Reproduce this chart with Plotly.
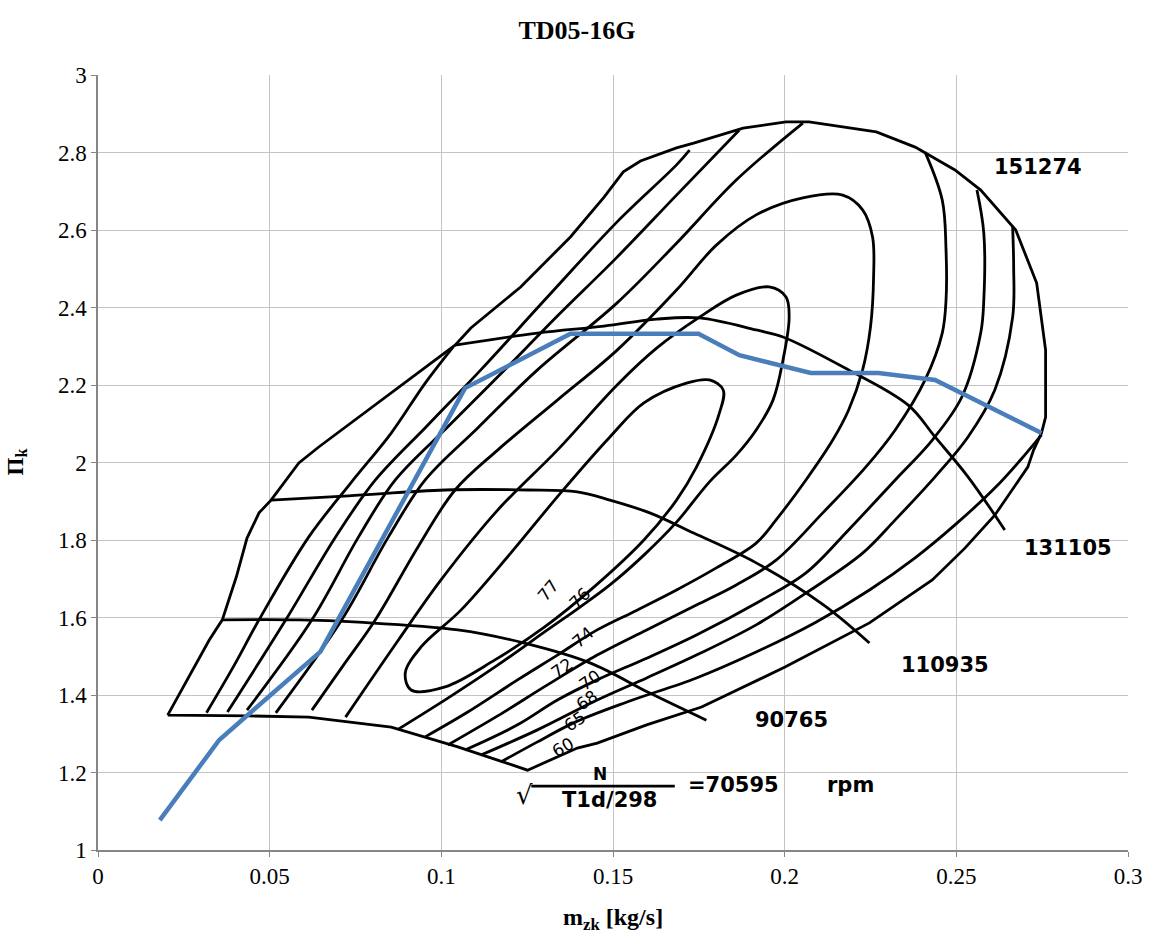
import plotly.graph_objects as go

# ---------------- operating line (blue) ----------------
blue_x = [0.0180, 0.0353, 0.0648, 0.1069, 0.1376, 0.1749, 0.1868, 0.2076, 0.2273, 0.2438, 0.2748]
blue_y = [1.077, 1.284, 1.512, 2.192, 2.332, 2.332, 2.277, 2.231, 2.231, 2.213, 2.076]

# ---------------- compressor map (read from the scanned map) ----------------
# outline: surge line, 151274 rpm top/choke, outer 60% contour, 70595 rpm line
boundary = [(0.0203, 1.348), (0.0243, 1.413), (0.0287, 1.483), (0.0324, 1.542), (0.0362, 1.594),
            (0.0403, 1.705), (0.0434, 1.805), (0.0469, 1.870), (0.0504, 1.903), (0.0585, 1.999),
            (0.0643, 2.040), (0.0759, 2.117), (0.0904, 2.213), (0.1040, 2.303), (0.1086, 2.347),
            (0.1231, 2.453), (0.1376, 2.582), (0.1474, 2.685), (0.1530, 2.750), (0.1580, 2.778),
            (0.1685, 2.812), (0.1735, 2.824), (0.1879, 2.863), (0.2004, 2.879), (0.2071, 2.879),
            (0.2186, 2.863), (0.2267, 2.853), (0.2380, 2.814), (0.2496, 2.755), (0.2571, 2.703),
            (0.2673, 2.600), (0.2734, 2.463), (0.2760, 2.290), (0.2760, 2.117), (0.2748, 2.076),
            (0.2725, 2.032), (0.2708, 1.988), (0.2612, 1.864), (0.2525, 1.779), (0.2430, 1.697),
            (0.2247, 1.586), (0.2001, 1.472), (0.1758, 1.369), (0.1598, 1.323), (0.1454, 1.276),
            (0.1396, 1.263), (0.1251, 1.206), (0.1164, 1.232), (0.1048, 1.266), (0.0854, 1.317),
            (0.0614, 1.343), (0.0440, 1.346), (0.0203, 1.348)]

speed_90765 = [(0.0362, 1.594), (0.0585, 1.594), (0.0759, 1.588), (0.1048, 1.568), (0.1242, 1.534),
               (0.1433, 1.483), (0.1607, 1.405), (0.1772, 1.335)]
speed_110935 = [(0.0504, 1.903), (0.0730, 1.914), (0.1011, 1.929), (0.1251, 1.929), (0.1396, 1.924),
                (0.1491, 1.903), (0.1607, 1.870), (0.1735, 1.818), (0.1917, 1.741), (0.2114, 1.632),
                (0.2247, 1.534)]
speed_131105 = [(0.1040, 2.303), (0.1280, 2.334), (0.1474, 2.352), (0.1627, 2.370), (0.1752, 2.373),
                (0.1917, 2.342), (0.1995, 2.324), (0.2186, 2.239), (0.2360, 2.148), (0.2438, 2.066),
                (0.2534, 1.963), (0.2641, 1.826)]

# efficiency contours
eff_77 = [(0.0895, 1.457), (0.0912, 1.413), (0.1011, 1.421), (0.1155, 1.490), (0.1300, 1.575),
          (0.1445, 1.679), (0.1590, 1.800), (0.1685, 1.903), (0.1743, 1.988), (0.1810, 2.128),
          (0.1821, 2.187), (0.1781, 2.213), (0.1714, 2.205), (0.1590, 2.154), (0.1491, 2.066),
          (0.1347, 1.921), (0.1202, 1.766), (0.1057, 1.619), (0.0941, 1.524), (0.0895, 1.457)]
eff_76 = [(0.0721, 1.343), (0.0875, 1.542), (0.0999, 1.697), (0.1164, 1.877), (0.1338, 2.032),
          (0.1512, 2.200), (0.1627, 2.295), (0.1752, 2.375), (0.1859, 2.432), (0.1955, 2.453),
          (0.2004, 2.427), (0.2013, 2.375), (0.1995, 2.264), (0.1966, 2.161), (0.1917, 2.084),
          (0.1859, 2.019), (0.1781, 1.950), (0.1685, 1.846), (0.1590, 1.761), (0.1491, 1.684),
          (0.1404, 1.627), (0.1309, 1.568), (0.1164, 1.477), (0.1019, 1.392), (0.0875, 1.312)]
eff_74 = [(0.0623, 1.361), (0.0715, 1.477), (0.0808, 1.594), (0.0932, 1.782), (0.1040, 1.929),
          (0.1164, 2.032), (0.1338, 2.161), (0.1512, 2.290), (0.1685, 2.445), (0.1801, 2.561),
          (0.1917, 2.639), (0.2053, 2.683), (0.2169, 2.690), (0.2227, 2.652), (0.2256, 2.582),
          (0.2259, 2.479), (0.2250, 2.350), (0.2227, 2.239), (0.2186, 2.135), (0.2140, 2.058),
          (0.2062, 1.955), (0.1975, 1.852), (0.1917, 1.792), (0.1801, 1.728), (0.1685, 1.671),
          (0.1570, 1.619), (0.1454, 1.568), (0.1338, 1.503), (0.1222, 1.439), (0.1077, 1.356),
          (0.0953, 1.292)]
eff_72_left = [(0.0518, 1.354), (0.0710, 1.594), (0.0846, 1.808), (0.0953, 1.955), (0.1106, 2.089),
               (0.1280, 2.239), (0.1512, 2.412), (0.1685, 2.566), (0.1859, 2.729), (0.2053, 2.876)]
eff_72_right = [(0.2409, 2.801), (0.2459, 2.677), (0.2470, 2.548), (0.2470, 2.419), (0.2459, 2.334),
                (0.2409, 2.213), (0.2322, 2.084), (0.2236, 1.988), (0.2111, 1.870), (0.1975, 1.748),
                (0.1859, 1.684), (0.1743, 1.632), (0.1598, 1.568), (0.1454, 1.503), (0.1309, 1.426),
                (0.1164, 1.346), (0.1019, 1.271)]
eff_70_left = [(0.0434, 1.361), (0.0623, 1.594), (0.0759, 1.808), (0.0866, 1.955), (0.1019, 2.092),
               (0.1179, 2.234), (0.1338, 2.378), (0.1512, 2.530), (0.1685, 2.690), (0.1868, 2.858)]
eff_70_right = [(0.2560, 2.703), (0.2580, 2.592), (0.2580, 2.419), (0.2571, 2.334), (0.2516, 2.169),
                (0.2430, 2.058), (0.2322, 1.955), (0.2186, 1.826), (0.2062, 1.715), (0.1917, 1.637),
                (0.1743, 1.555), (0.1598, 1.495), (0.1454, 1.439), (0.1338, 1.387), (0.1222, 1.323),
                (0.1069, 1.258)]
eff_68_left = [(0.0377, 1.356), (0.0547, 1.594), (0.0692, 1.808), (0.0808, 1.955), (0.0961, 2.097),
               (0.1115, 2.239), (0.1309, 2.427), (0.1512, 2.621), (0.1685, 2.768), (0.1723, 2.806)]
eff_68_right = [(0.2664, 2.608), (0.2667, 2.504), (0.2664, 2.375), (0.2612, 2.187), (0.2534, 2.066),
                (0.2438, 1.963), (0.2322, 1.852), (0.2227, 1.766), (0.2062, 1.663), (0.1917, 1.581),
                (0.1743, 1.503), (0.1598, 1.444), (0.1454, 1.387), (0.1280, 1.310), (0.1115, 1.245)]
eff_65_left = [(0.1034, 2.298), (0.0953, 2.205), (0.0854, 2.076), (0.0736, 1.947), (0.0614, 1.808),
               (0.0469, 1.594), (0.0397, 1.477), (0.0316, 1.354)]
eff_65_right = [(0.2748, 2.071), (0.2699, 2.019), (0.2612, 1.934), (0.2496, 1.839), (0.2380, 1.754),
                (0.2247, 1.671), (0.2091, 1.588), (0.1917, 1.511), (0.1743, 1.444), (0.1541, 1.382),
                (0.1390, 1.330), (0.1280, 1.279), (0.1173, 1.227)]

eff_labels = ["77", "76", "74", "72", "70", "68", "65", "60"]
eff_label_x = [0.1312, 0.1404, 0.1413, 0.1352, 0.1433, 0.1425, 0.1390, 0.1355]
eff_label_y = [1.671, 1.650, 1.550, 1.470, 1.439, 1.387, 1.333, 1.266]
eff_label_angle = [-50, -45, -40, -35, -35, -35, -35, -30]

speed_labels = ["151274", "131105", "110935", "90765"]
speed_label_x = [0.2737, 0.2826, 0.2467, 0.2021]
speed_label_y = [2.763, 1.779, 1.477, 1.335]

x_ticks = [0, 0.05, 0.1, 0.15, 0.2, 0.25, 0.3]
y_ticks = [1, 1.2, 1.4, 1.6, 1.8, 2, 2.2, 2.4, 2.6, 2.8, 3]

fig = go.Figure()

def add_black(points, shape="linear", width=2.8):
    xs = [p[0] for p in points]
    ys = [p[1] for p in points]
    fig.add_trace(go.Scatter(x=xs, y=ys, mode="lines",
                             line=dict(color="black", width=width, shape=shape),
                             hoverinfo="skip", showlegend=False))

add_black(boundary)
for s in (speed_90765, speed_110935, speed_131105):
    add_black(s, shape="spline")
for c in (eff_77, eff_76, eff_74, eff_72_left, eff_72_right, eff_70_left, eff_70_right,
          eff_68_left, eff_68_right, eff_65_left, eff_65_right):
    add_black(c, shape="spline")

fig.add_trace(go.Scatter(x=blue_x, y=blue_y, mode="lines",
                         line=dict(color="#4a7ebb", width=4.5),
                         hoverinfo="skip", showlegend=False))

map_font = dict(family="DejaVu Sans", size=21, color="black", weight="bold")
for t, x, y in zip(speed_labels, speed_label_x, speed_label_y):
    fig.add_annotation(x=x, y=y, text=t, showarrow=False, font=map_font)
for t, x, y, a in zip(eff_labels, eff_label_x, eff_label_y, eff_label_angle):
    fig.add_annotation(x=x, y=y, text=t, showarrow=False, textangle=a,
                       font=dict(family="DejaVu Sans", size=17, color="black"))

# rpm formula under the map
fig.add_annotation(x=0.1462, y=1.196, text="N", showarrow=False,
                   font=dict(family="DejaVu Sans", size=17, color="black", weight="bold"))
fig.add_shape(type="line", x0=0.1262, x1=0.1680, y0=1.165, y1=1.165,
              line=dict(color="black", width=2.8))
fig.add_annotation(x=0.1243, y=1.142, text="√", showarrow=False,
                   font=dict(family="DejaVu Sans", size=26, color="black"))
fig.add_annotation(x=0.1491, y=1.129, text="T1d/298", showarrow=False, font=map_font)
fig.add_annotation(x=0.1850, y=1.168, text="=70595", showarrow=False, font=map_font)
fig.add_annotation(x=0.2192, y=1.168, text="rpm", showarrow=False, font=map_font)

# axis titles
fig.add_annotation(xref="paper", yref="paper", x=0.5, y=0, yanchor="top", yshift=-52,
                   text="<b>m<sub>zk</sub> [kg/s]</b>", showarrow=False,
                   font=dict(family="Liberation Serif", size=24, color="black"))
fig.add_annotation(xref="paper", yref="paper", x=0, y=0.5, xanchor="right", xshift=-66,
                   text="<b>Π<sub>k</sub></b>", showarrow=False, textangle=-90,
                   font=dict(family="Liberation Serif", size=23, color="black"))

fig.update_layout(
    width=1154, height=933,
    margin=dict(l=98, r=20, t=75, b=83),
    paper_bgcolor="white", plot_bgcolor="white",
    title=dict(text="<b>TD05-16G</b>", x=0.5, xanchor="center", y=0.968, yanchor="middle",
               font=dict(family="Liberation Serif", size=26, color="black")),
    xaxis=dict(range=[0, 0.3], tickvals=x_ticks, showgrid=True, gridcolor="#c4c4c4", gridwidth=1,
               showline=True, linecolor="#868686", linewidth=1.5, ticks="outside", ticklen=5,
               tickcolor="#868686", zeroline=False,
               tickfont=dict(family="Liberation Serif", size=23, color="black")),
    yaxis=dict(range=[1, 3], tickvals=y_ticks, showgrid=True, gridcolor="#c4c4c4", gridwidth=1,
               showline=True, linecolor="#868686", linewidth=1.5, ticks="outside", ticklen=5,
               tickcolor="#868686", zeroline=False,
               tickfont=dict(family="Liberation Serif", size=23, color="black")),
)

fig.write_html("out.html")
